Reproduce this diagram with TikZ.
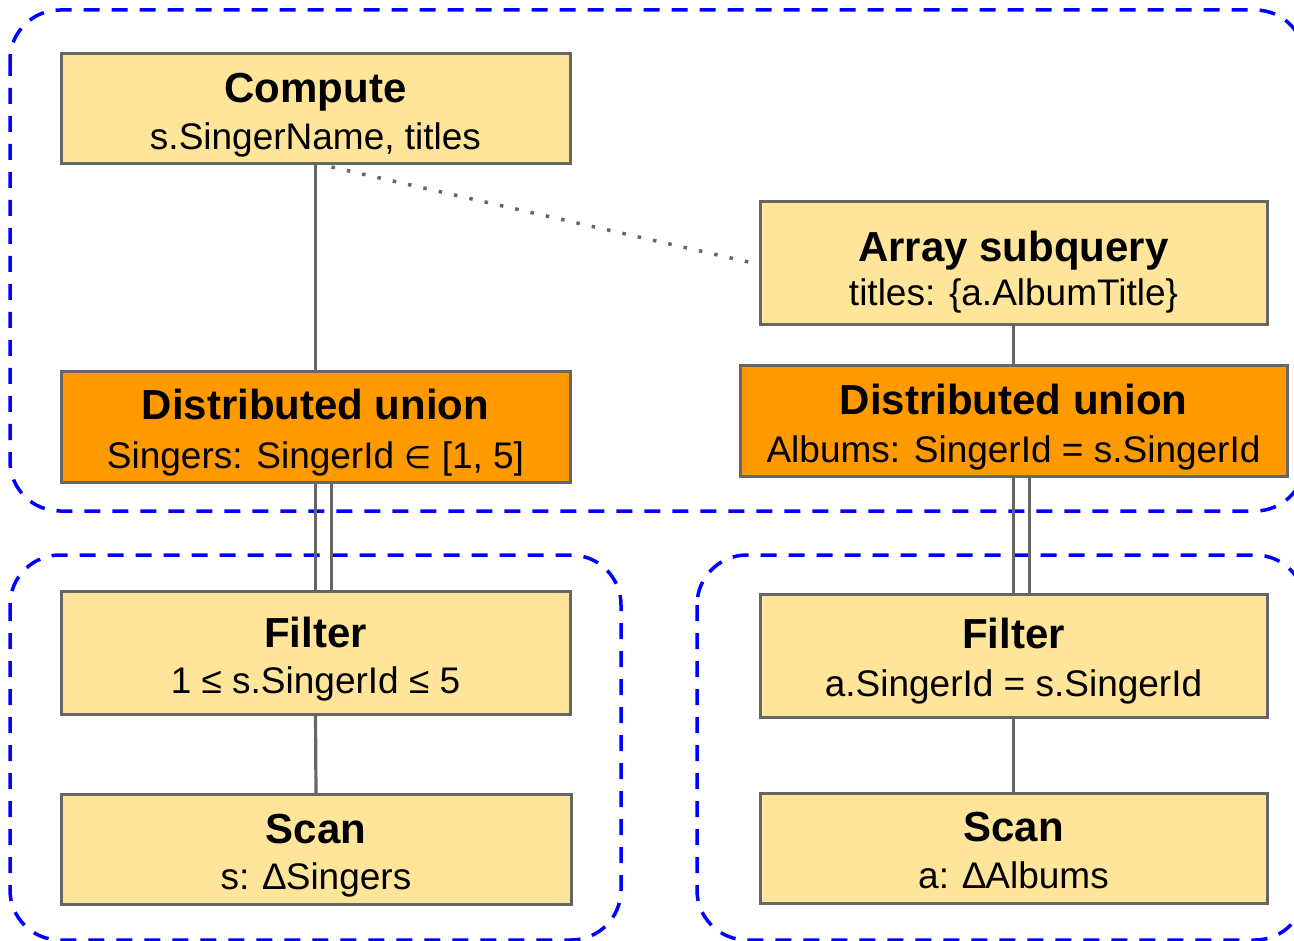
\documentclass[tikz,border=0pt]{standalone}
\usepackage{fontspec}
\setmainfont{Liberation Sans}
\newfontfamily\symfont{DejaVu Sans}
\definecolor{opfill}{HTML}{FFE599}
\definecolor{unionfill}{HTML}{FF9900}
\definecolor{edgegray}{HTML}{666666}
\definecolor{zoneblue}{HTML}{0000FF}
\begin{document}
\begin{tikzpicture}[x=1pt,y=-1pt,
  box/.style={draw=edgegray, line width=3pt, inner sep=0pt, outer sep=0pt},
  op/.style={box, fill=opfill},
  union/.style={box, fill=unionfill},
  ttl/.style={anchor=base, inner sep=0pt, font=\fontsize{42}{50}\selectfont\bfseries},
  sub/.style={anchor=base, inner sep=0pt, font=\fontsize{37}{44}\selectfont},
  link/.style={draw=edgegray, line width=3.2pt},
  hint/.style={draw=edgegray, line width=3.5pt, dash pattern=on 3.5pt off 12.2pt},
  zonebox/.style={draw=zoneblue, line width=3.5pt, dash pattern=on 16pt off 12pt, rounded corners=50pt}]
\clip (0,0) rectangle (1294,941);

% execution zones
\draw[zonebox] (10,10) rectangle (1305,511);
\draw[zonebox] (10,555) rectangle (621,940);
\draw[zonebox] (697,555) rectangle (1305,940);

% operator boxes
\node[op, minimum width=509pt, minimum height=110pt] (compute) at (315.5,109) {};
\node[op, minimum width=507pt, minimum height=123pt] (asq) at (1013.5,263.5) {};
\node[union, minimum width=509pt, minimum height=110pt] (duL) at (315.5,427) {};
\node[union, minimum width=547pt, minimum height=110pt] (duR) at (1013.5,421) {};
\node[op, minimum width=509pt, minimum height=123pt] (filterL) at (315.5,652.5) {};
\node[op, minimum width=510pt, minimum height=110pt] (scanL) at (316,849) {};
\node[op, minimum width=507pt, minimum height=123pt] (filterR) at (1013.5,655.5) {};
\node[op, minimum width=507pt, minimum height=110pt] (scanR) at (1013.5,848) {};

% connectors
\draw[link] (compute.south) -- (duL.north);
\draw[link] (asq.south) -- (duR.north);
\draw[link] (duL.south) -- (filterL.north);
\draw[link] ([xshift=16pt]duL.south) -- ([xshift=16pt]filterL.north);
\draw[link] (duR.south) -- (filterR.north);
\draw[link] ([xshift=16pt]duR.south) -- ([xshift=16pt]filterR.north);
\draw[link] (filterL.south) -- (scanL.north);
\draw[link] (filterR.south) -- (scanR.north);
\draw[hint] ([xshift=16pt,yshift=-3pt]compute.south) -- ([xshift=-5pt]asq.west);

% redraw box outlines over the connector ends
\foreach \n in {compute,asq,duL,duR,filterL,scanL,filterR,scanR}
  \draw[draw=edgegray, line width=3pt] (\n.north west) rectangle (\n.south east);

% labels
\node[ttl] (computeT) at ([yshift=6.5pt]compute.center) {Compute};
\node[sub] (computeS) at ([yshift=-40.5pt]compute.center) {s.SingerName, titles};
\node[ttl] (asqT) at ([yshift=1.5pt]asq.center) {Array subquery};
\node[sub] (asqS) at ([yshift=-42.5pt]asq.center) {titles: \{a.AlbumTitle\}};
\node[ttl] (duLT) at ([yshift=7pt]duL.center) {Distributed union};
\node[sub] (duLS) at ([yshift=-41pt]duL.center) {Singers: SingerId {\symfont\fontsize{31}{40}\selectfont ∈} [1, 5]};
\node[ttl] (duRT) at ([yshift=7pt]duR.center) {Distributed union};
\node[sub] (duRS) at ([yshift=-41pt]duR.center) {Albums: SingerId = s.SingerId};
\node[ttl] (filterLT) at ([yshift=5.5pt]filterL.center) {Filter};
\node[sub] (filterLS) at ([yshift=-40.5pt]filterL.center) {1 ≤ s.SingerId ≤ 5};
\node[ttl] (scanLT) at ([yshift=6pt]scanL.center) {Scan};
\node[sub] (scanLS) at ([yshift=-40pt]scanL.center) {s: ∆Singers};
\node[ttl] (filterRT) at ([yshift=7.5pt]filterR.center) {Filter};
\node[sub] (filterRS) at ([yshift=-40.5pt]filterR.center) {a.SingerId = s.SingerId};
\node[ttl] (scanRT) at ([yshift=7pt]scanR.center) {Scan};
\node[sub] (scanRS) at ([yshift=-40pt]scanR.center) {a: ∆Albums};
\end{tikzpicture}
\end{document}
